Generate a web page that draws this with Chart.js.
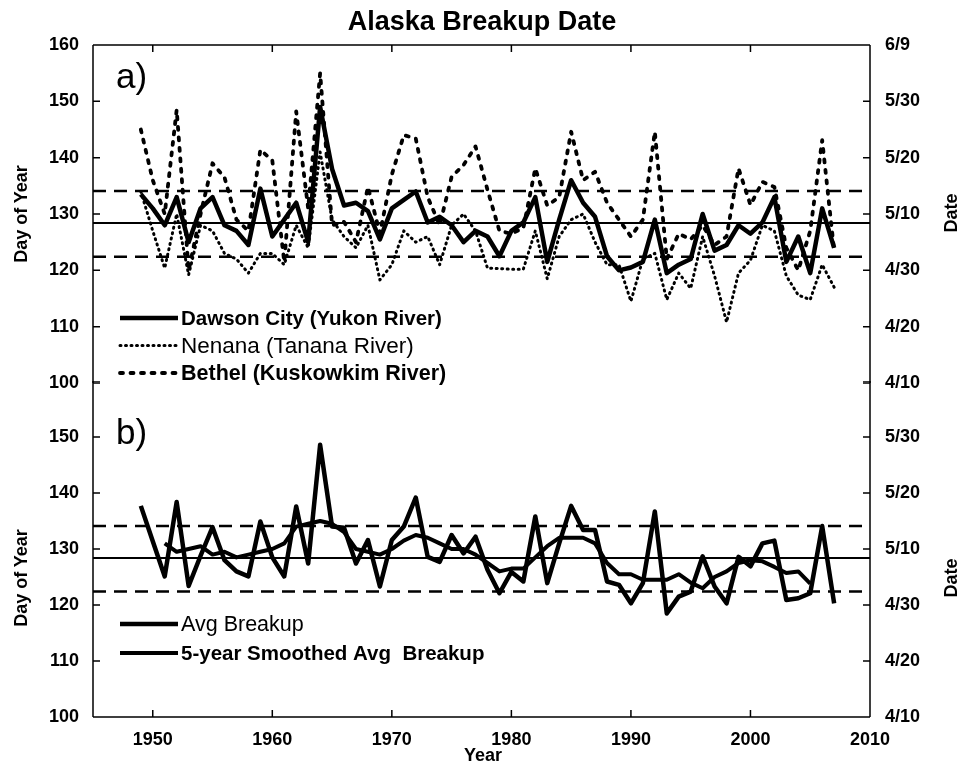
<!DOCTYPE html>
<html>
<head>
<meta charset="utf-8">
<script src="https://cdn.jsdelivr.net/npm/chart.js@4.4.1/dist/chart.umd.min.js"></script>
<style>
  body { margin:0; background:#fff; width:968px; height:764px; position:relative; overflow:hidden;
         font-family:"Liberation Sans", Arial, sans-serif; color:#000; }
  canvas { position:absolute; left:0; }
  #chartTop { top:0; }
  #chartBot { top:381px; }
  .txt { position:absolute; font-weight:bold; white-space:nowrap; line-height:1; }
  .rot { transform:translate(-50%,-50%) rotate(-90deg); }
  .ctr { transform:translate(-50%,-50%); }
</style>
</head>
<body>
<canvas id="chartBot" width="968" height="383"></canvas>
<canvas id="chartTop" width="968" height="400"></canvas>

<div class="txt ctr" style="left:482px;top:21px;font-size:27px;">Alaska Breakup Date</div>
<div class="txt" style="left:116px;top:58px;font-size:35px;font-weight:normal;">a)</div>
<div class="txt" style="left:116px;top:414px;font-size:35px;font-weight:normal;">b)</div>
<div class="txt rot" style="left:21px;top:214px;font-size:18px;">Day of Year</div>
<div class="txt rot" style="left:21px;top:578px;font-size:18px;">Day of Year</div>
<div class="txt rot" style="left:951px;top:213px;font-size:18px;">Date</div>
<div class="txt rot" style="left:951px;top:578px;font-size:18px;">Date</div>
<div class="txt ctr" style="left:483px;top:755px;font-size:18px;">Year</div>

<script>
// Breakup day-of-year, 1949-2007
const years = [1949,1950,1951,1952,1953,1954,1955,1956,1957,1958,1959,1960,1961,1962,1963,1964,1965,1966,1967,1968,
  1969,1970,1971,1972,1973,1974,1975,1976,1977,1978,1979,1980,1981,1982,1983,1984,1985,1986,1987,1988,
  1989,1990,1991,1992,1993,1994,1995,1996,1997,1998,1999,2000,2001,2002,2003,2004,2005,2006,2007];

const dawson = [133.5,131,128,133,125,131,133,128,127,124.5,134.5,126,129,132,125,149,138,131.5,132,130.5,
  125.5,131,132.5,134,128.5,129.5,128,125,127,126,122.5,127,128.5,133,121.5,129,136,132,129.5,122.5,
  120,120.5,121.5,129,119.5,121,122,130,123.5,124.5,128,126.5,128.5,133,121.5,126,119.5,131,124];

const nenana = [134,127,120.4,130,119.2,128,127,123,122,119.5,123,123,121,128,124,141,129,126,124,128,
  118.3,121,127,125,126,121,128,130,127,120.4,120.3,120.2,120.2,127,118.5,126,129,130,125,121,
  121,114.5,122,123,114.8,119.5,116.8,126,119,110.8,119.5,121.8,128,127,119,115.6,114.8,121,117];

const bethel = [145,136,130,148.5,120,130,139,136.5,129,127,141.4,139.5,121.5,148.2,131,155,128,128.6,125,134.8,
  126.6,137,144,143.4,133,128,136.6,138.7,142,134.3,127,126.5,127.5,138.1,131.5,133,144.6,136,137.5,132,
  129,126,129,144.6,122,126.5,125.5,128,124.5,126,138.1,131.6,135.7,134.8,124,120,127,143.1,123.5];

const avgBreakup = [137.7,131.4,125.1,138.4,123.4,128.8,133.9,128.0,126.0,125.1,134.9,128.5,125.1,137.6,127.4,148.6,134.0,133.8,127.4,131.6,
  123.3,131.6,134.0,139.2,128.6,127.7,132.5,129.2,132.2,126.3,122.1,125.9,124.2,135.8,123.9,131.0,137.7,133.4,133.4,124.2,
  123.6,120.3,123.9,136.7,118.5,121.5,122.4,128.7,123.3,120.3,128.6,126.9,131.0,131.5,120.9,121.2,122.1,134.1,120.3];

// 5-year smoothed average, 1951-2005
const smoothYears = years.slice(2, 57);
const smoothed = [131.0,129.5,130.0,130.5,129.0,129.5,128.5,129.0,129.5,130.0,131.0,134.0,134.5,135.0,134.5,133.0,130.0,129.5,129.0,130.0,
  131.5,132.5,132.0,131.0,130.0,130.0,129.0,127.5,126.0,126.5,126.5,128.5,130.5,132.0,132.0,132.0,131.0,127.5,125.5,125.5,
  124.5,124.5,124.5,125.5,124.0,123.0,125.0,126.0,127.5,128.0,127.8,126.8,125.7,126.0,123.8];

// Long-term mean and +/- one standard deviation
const meanDay = 128.4;
const upperDay = 134.1;
const lowerDay = 122.4;

// Axis ticks
const yearTicks = [1950,1960,1970,1980,1990,2000,2010];
const dayTicks = [100,110,120,130,140,150,160];
const dateTicks = ['4/10','4/20','4/30','5/10','5/20','5/30','6/9'];
const xRange = [1945, 2010];

const pts = (xs, ys) => xs.map((x, i) => ({x, y: ys[i]}));
const flat = v => [{x: xRange[0], y: v}, {x: xRange[1], y: v}];

const FONT = '"Liberation Sans", Arial, sans-serif';
const tickFont = {family: FONT, size: 18, weight: 'bold'};

// Box outline with inward-pointing tick marks
const framePlugin = {
  id: 'frame',
  afterDatasetsDraw(chart, args, opts) {
    const {ctx, chartArea: a, scales} = chart;
    ctx.save();
    ctx.strokeStyle = '#000';
    ctx.lineWidth = 1.5;
    ctx.beginPath();
    ctx.moveTo(a.left, a.top); ctx.lineTo(a.left, a.bottom);
    ctx.moveTo(a.right, a.top); ctx.lineTo(a.right, a.bottom);
    const edgeY = opts.edge === 'top' ? a.top : a.bottom;
    const dir = opts.edge === 'top' ? 1 : -1;
    ctx.moveTo(a.left, edgeY); ctx.lineTo(a.right, edgeY);
    yearTicks.forEach(yr => {
      const px = scales.x.getPixelForValue(yr);
      ctx.moveTo(px, edgeY); ctx.lineTo(px, edgeY + dir * 7);
    });
    dayTicks.forEach(d => {
      const py = scales.y.getPixelForValue(d);
      ctx.moveTo(a.left, py); ctx.lineTo(a.left + 7, py);
      ctx.moveTo(a.right, py); ctx.lineTo(a.right - 7, py);
    });
    ctx.stroke();
    ctx.restore();
  }
};

// Legend drawn inside the plot, styled from each dataset
const insetLegend = {
  id: 'insetLegend',
  afterDatasetsDraw(chart, args, opts) {
    const {ctx} = chart;
    ctx.save();
    opts.items.forEach((it, k) => {
      const ds = chart.data.datasets[it.index];
      const y = opts.y + k * opts.gap;
      ctx.strokeStyle = ds.borderColor;
      ctx.lineWidth = ds.borderWidth;
      ctx.lineCap = ds.borderCapStyle || 'butt';
      ctx.setLineDash(ds.borderDash || []);
      ctx.beginPath();
      ctx.moveTo(opts.x, y); ctx.lineTo(opts.x + opts.len, y);
      ctx.stroke();
      ctx.setLineDash([]);
      ctx.fillStyle = '#000';
      ctx.font = (it.bold ? 'bold ' : '') + it.size + 'px ' + FONT;
      ctx.textBaseline = 'middle';
      ctx.textAlign = 'left';
      ctx.fillText(ds.label, opts.x + opts.len + 3, y + 1);
    });
    ctx.restore();
  }
};

// Keep the plot box exactly where the axes put it (no extra room for end labels)
const noPad = s => { s.paddingTop = 0; s.paddingBottom = 0; s.paddingLeft = 0; s.paddingRight = 0; };

function yScales(showTop) {
  const lab = v => (v === 160 && !showTop) ? '' : String(v);
  const dlab = v => (v === 160 && !showTop) ? '' : dateTicks[dayTicks.indexOf(v)];
  return {
    y: {
      type: 'linear', position: 'left', min: 100, max: 160,
      afterFit: s => { s.width = 93; noPad(s); },
      afterBuildTicks: s => { s.ticks = dayTicks.map(v => ({value: v})); },
      grid: {display: false, drawTicks: false}, border: {display: false},
      ticks: {padding: 14, color: '#000', font: tickFont, callback: lab}
    },
    y2: {
      type: 'linear', position: 'right', min: 100, max: 160,
      afterFit: s => { s.width = 98; noPad(s); },
      afterBuildTicks: s => { s.ticks = dayTicks.map(v => ({value: v})); },
      grid: {display: false, drawTicks: false}, border: {display: false},
      ticks: {padding: 15, color: '#000', font: tickFont, callback: dlab}
    }
  };
}

const refLines = () => [
  {label: 'mean', data: flat(meanDay), borderColor: '#000', borderWidth: 2},
  {label: '+1sd', data: flat(upperDay), borderColor: '#000', borderWidth: 2.5, borderDash: [13, 8]},
  {label: '-1sd', data: flat(lowerDay), borderColor: '#000', borderWidth: 2.5, borderDash: [13, 8]}
];

const common = {
  responsive: false, animation: false, devicePixelRatio: 1,
  elements: {point: {radius: 0}, line: {tension: 0, fill: false, borderJoinStyle: 'round'}},
  plugins: {legend: {display: false}, tooltip: {enabled: false}, title: {display: false}}
};

new Chart(document.getElementById('chartTop'), {
  type: 'line',
  data: {datasets: [
    ...refLines(),
    {label: 'Dawson City (Yukon River)', data: pts(years, dawson), borderColor: '#000', borderWidth: 4.5},
    {label: 'Nenana (Tanana River)', data: pts(years, nenana), borderColor: '#000', borderWidth: 3, borderDash: [1, 4.5], borderCapStyle: 'round'},
    {label: 'Bethel (Kuskowkim River)', data: pts(years, bethel), borderColor: '#000', borderWidth: 3.8, borderDash: [3, 7.5], borderCapStyle: 'round'}
  ]},
  options: {
    ...common,
    layout: {padding: {top: 45, bottom: 17, left: 0, right: 0}},
    scales: {
      x: {type: 'linear', min: xRange[0], max: xRange[1], display: false},
      ...yScales(true)
    },
    plugins: {
      ...common.plugins,
      frame: {edge: 'top'},
      insetLegend: {x: 120, y: 318, gap: 27.5, len: 58,
        items: [{index: 3, bold: true, size: 20.5}, {index: 4, bold: false, size: 22.5}, {index: 5, bold: true, size: 21.5}]}
    }
  },
  plugins: [framePlugin, insetLegend]
});

new Chart(document.getElementById('chartBot'), {
  type: 'line',
  data: {datasets: [
    ...refLines(),
    {label: 'Avg Breakup', data: pts(years, avgBreakup), borderColor: '#000', borderWidth: 4.5},
    {label: '5-year Smoothed Avg  Breakup', data: pts(smoothYears, smoothed), borderColor: '#000', borderWidth: 4}
  ]},
  options: {
    ...common,
    layout: {padding: {top: 0, bottom: 0, left: 0, right: 0}},
    scales: {
      x: {
        type: 'linear', position: 'bottom', min: xRange[0], max: xRange[1],
        afterFit: s => { s.height = 47; noPad(s); },
        afterBuildTicks: s => { s.ticks = yearTicks.map(v => ({value: v})); },
        grid: {display: false, drawTicks: false}, border: {display: false},
        ticks: {padding: 12, color: '#000', font: tickFont, maxRotation: 0, callback: v => String(v)}
      },
      ...yScales(false)
    },
    plugins: {
      ...common.plugins,
      frame: {edge: 'bottom'},
      insetLegend: {x: 120, y: 243, gap: 29, len: 58,
        items: [{index: 3, bold: false, size: 21.5}, {index: 4, bold: true, size: 20.5}]}
    }
  },
  plugins: [framePlugin, insetLegend]
});
</script>
</body>
</html>
